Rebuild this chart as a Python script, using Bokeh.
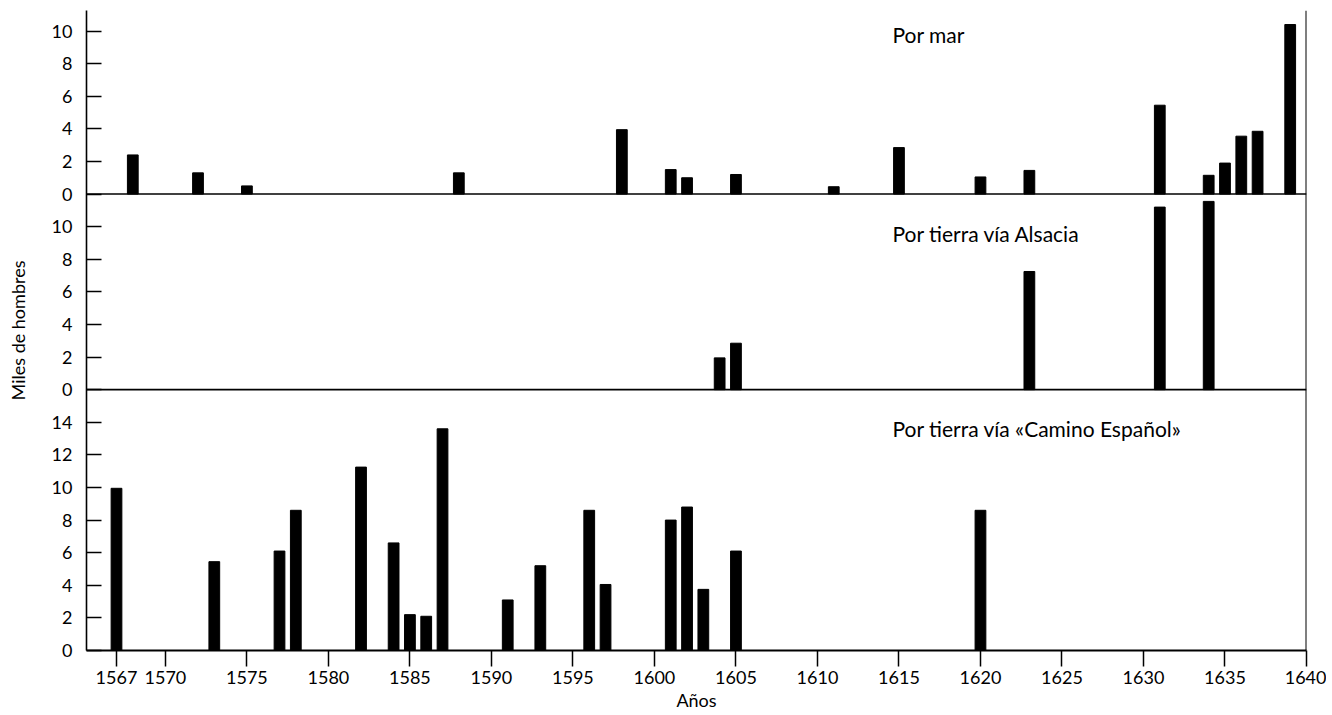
from bokeh.plotting import figure
from bokeh.models import Range1d, FixedTicker, Span, Label, ColumnDataSource
from bokeh.embed import file_html
from bokeh.resources import INLINE

# ---------------- data ----------------
mar_years = [1568, 1572, 1575, 1588, 1598, 1601, 1602, 1605, 1611, 1615,
             1620, 1623, 1631, 1634, 1635, 1636, 1637, 1639]
mar_vals = [2.4, 1.3, 0.5, 1.3, 3.95, 1.5, 1.0, 1.2, 0.45, 2.85,
            1.05, 1.45, 5.45, 1.15, 1.9, 3.55, 3.85, 10.4]

alsacia_years = [1604, 1605, 1623, 1631, 1634]
alsacia_vals = [1.95, 2.85, 7.25, 11.2, 11.55]

camino_years = [1567, 1573, 1577, 1578, 1582, 1584, 1585, 1586, 1587, 1591,
                1593, 1596, 1597, 1601, 1602, 1603, 1605, 1620]
camino_vals = [9.95, 5.45, 6.1, 8.6, 11.25, 6.6, 2.2, 2.1, 13.6, 3.1,
               5.2, 8.6, 4.05, 8.0, 8.8, 3.75, 6.1, 8.6]

x_ticks = [1567, 1570, 1575, 1580, 1585, 1590, 1595, 1600, 1605, 1610,
           1615, 1620, 1625, 1630, 1635, 1640]
mar_ticks = [0, 2, 4, 6, 8, 10]
alsacia_ticks = [0, 2, 4, 6, 8, 10]
camino_ticks = [0, 2, 4, 6, 8, 10, 12, 14]

titles = ["Por mar", "Por tierra vía Alsacia", "Por tierra vía «Camino Español»"]
y_title = "Miles de hombres"
x_title = "Años"

# ---------------- layout constants ----------------
FONT = "Lato"
ALS_OFF = 16      # stacked panel offsets (in units of the bottom panel scale)
MAR_OFF = 28
Y_TOP = 39.26

p = figure(width=1326, height=715, output_backend="svg", toolbar_location=None,
           x_range=Range1d(1565.16, 1640), y_range=Range1d(0, Y_TOP),
           min_border_left=86, min_border_right=20, min_border_top=10,
           min_border_bottom=65)
p.extra_y_ranges = {
    "alsacia": Range1d(-ALS_OFF, Y_TOP - ALS_OFF),
    "mar": Range1d(-MAR_OFF, Y_TOP - MAR_OFF),
}
p.outline_line_color = None
p.xgrid.visible = False
p.ygrid.visible = False
p.background_fill_color = "white"
p.border_fill_color = "white"

BAR_W = 0.66
p.vbar(x="x", top="top", bottom=0, width=BAR_W, color="black",
       source=ColumnDataSource(dict(x=camino_years, top=camino_vals)))
p.vbar(x="x", top="top", bottom=0, width=BAR_W, color="black", y_range_name="alsacia",
       source=ColumnDataSource(dict(x=alsacia_years, top=alsacia_vals)))
p.vbar(x="x", top="top", bottom=0, width=BAR_W, color="black", y_range_name="mar",
       source=ColumnDataSource(dict(x=mar_years, top=mar_vals)))

# panel separators (zero lines of upper panels) and right border
p.add_layout(Span(location=0, dimension="width", y_range_name="alsacia",
                  line_color="black", line_width=1.6))
p.add_layout(Span(location=0, dimension="width", y_range_name="mar",
                  line_color="black", line_width=1.6))
p.add_layout(Span(location=1640, dimension="height", line_color="black", line_width=2))

# y axis: one continuous axis, labelled per panel
ticks, overrides = [], {}
for off, tl in [(0, camino_ticks), (ALS_OFF, alsacia_ticks), (MAR_OFF, mar_ticks)]:
    for t in tl:
        ticks.append(off + t)
        overrides[off + t] = str(t)
ya = p.yaxis[0]
ya.ticker = FixedTicker(ticks=ticks)
ya.major_label_overrides = overrides
ya.major_tick_in = 15
ya.major_tick_out = 0
ya.minor_tick_line_color = None
ya.major_tick_line_width = 1.5
ya.axis_line_width = 1.6
ya.major_label_standoff = 14
ya.major_label_text_font = FONT
ya.major_label_text_font_size = "18px"
ya.major_label_text_color = "black"
ya.axis_label = y_title
ya.axis_label_text_font = FONT
ya.axis_label_text_font_size = "18px"
ya.axis_label_text_color = "black"
ya.axis_label_text_font_style = "normal"
ya.axis_label_standoff = 20

xa = p.xaxis[0]
xa.ticker = FixedTicker(ticks=x_ticks)
xa.major_tick_in = 0
xa.major_tick_out = 16
xa.minor_tick_line_color = None
xa.major_tick_line_width = 1.5
xa.axis_line_width = 1.8
xa.major_label_standoff = 4
xa.major_label_text_font = FONT
xa.major_label_text_font_size = "18px"
xa.major_label_text_color = "black"
xa.axis_label = x_title
xa.axis_label_text_font = FONT
xa.axis_label_text_font_size = "18px"
xa.axis_label_text_color = "black"
xa.axis_label_text_font_style = "normal"
xa.axis_label_standoff = 2

# panel titles
for txt, yv, rng in [(titles[0], 9.77, "mar"), (titles[1], 9.56, "alsacia"),
                     (titles[2], 13.6, "default")]:
    p.add_layout(Label(x=1614.6, y=yv, y_range_name=rng, text=txt,
                       text_font=FONT, text_font_size="21px", text_color="black",
                       text_baseline="alphabetic", text_align="left"))

open("out.html", "w").write(file_html(p, INLINE))
